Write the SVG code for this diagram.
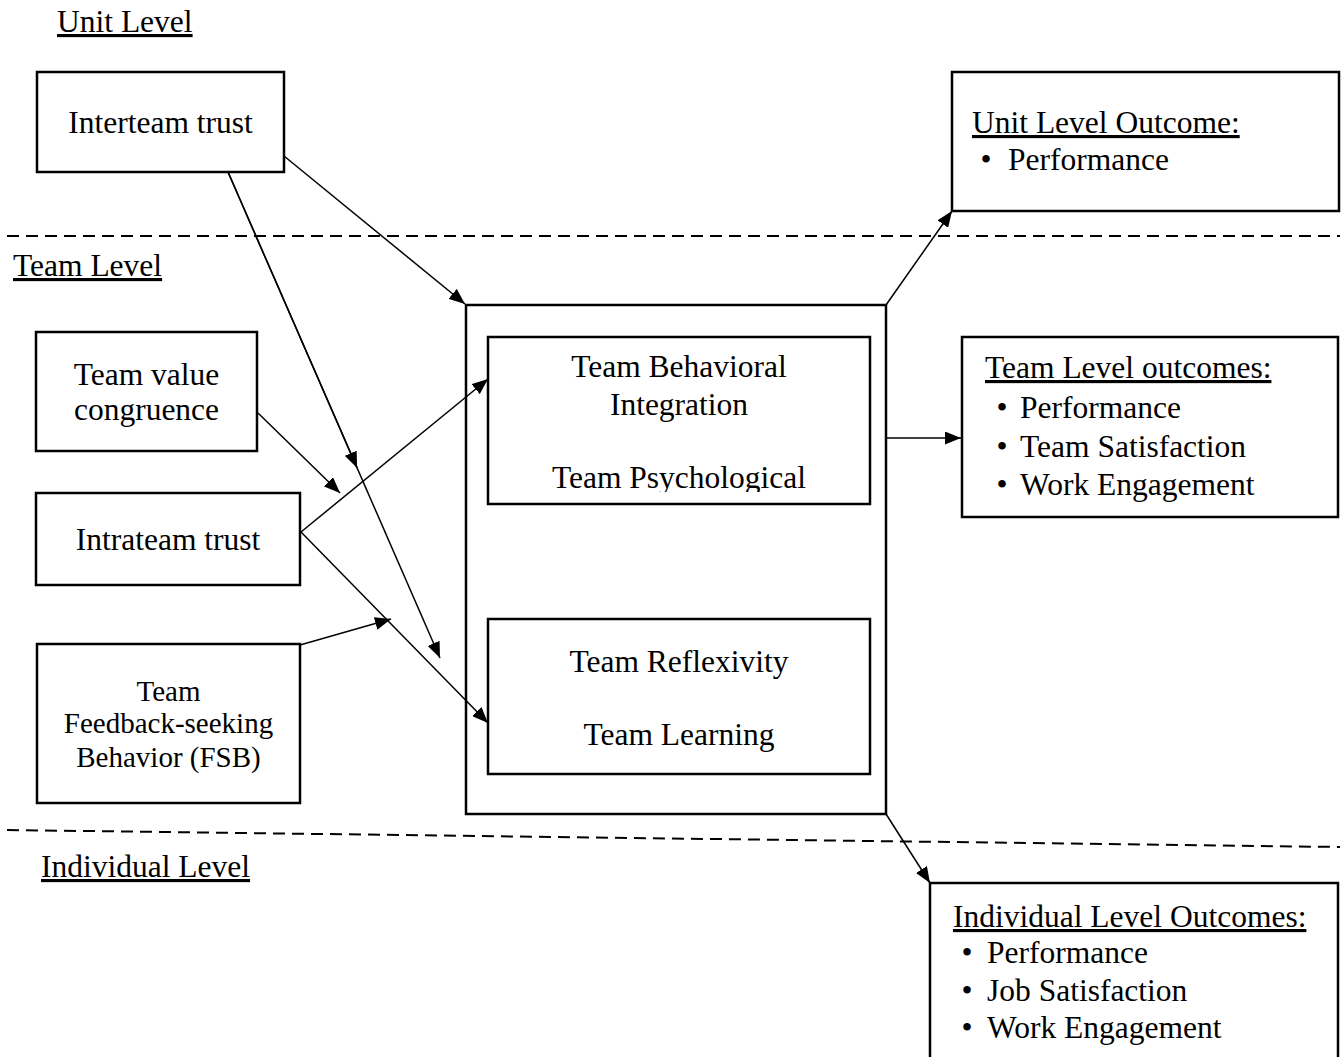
<svg xmlns="http://www.w3.org/2000/svg" width="1343" height="1057" viewBox="0 0 1343 1057">
<style>
text{font-family:"Liberation Serif","Times New Roman",serif;font-size:31.5px;fill:#000}
.c{text-anchor:middle}
.u{text-decoration:underline}
.s{font-size:29px}
.box{fill:#fff;stroke:#000;stroke-width:2.5}
.con line{stroke:#000;stroke-width:1.5;fill:none}
.dash{stroke:#000;stroke-width:2;stroke-dasharray:12 7;fill:none}
</style>
<defs>
<marker id="ah" viewBox="0 0 16 13" refX="16" refY="6.5" markerWidth="16" markerHeight="13" orient="auto" markerUnits="userSpaceOnUse">
<path d="M0,0 L16,6.5 L0,13 Z" fill="#000"/>
</marker>
<clipPath id="clip1"><rect x="488" y="337" width="382" height="155"/></clipPath>
</defs>
<rect width="1343" height="1057" fill="#fff"/>

<g id="levels">
<line class="dash" x1="7" y1="236" x2="1340" y2="236"/>
<line class="dash" x1="7" y1="830" x2="1340" y2="847"/>
<text class="u" x="57" y="32">Unit Level</text>
<text class="u" x="13" y="276">Team Level</text>
<text class="u" x="41" y="877">Individual Level</text>
</g>

<g id="interteam">
<rect class="box" x="37" y="72" width="247" height="100"/>
<text class="c" x="160.5" y="133">Interteam trust</text>
</g>

<g id="valuecongruence">
<rect class="box" x="36" y="332" width="221" height="119"/>
<text class="c" x="146.5" y="385">Team value</text>
<text class="c" x="146.5" y="420">congruence</text>
</g>

<g id="intrateam">
<rect class="box" x="36" y="493" width="264" height="92"/>
<text class="c" x="168" y="550">Intrateam trust</text>
</g>

<g id="fsb">
<rect class="box" x="37" y="644" width="263" height="159"/>
<text class="c s" x="168.5" y="701">Team</text>
<text class="c s" x="168.5" y="733">Feedback-seeking</text>
<text class="c s" x="168.5" y="767">Behavior (FSB)</text>
</g>

<g id="mediators">
<rect class="box" x="466" y="305" width="420" height="509"/>
</g>

<g id="behavioral">
<rect class="box" x="488" y="337" width="382" height="167"/>
<g clip-path="url(#clip1)">
<text class="c" x="679" y="377">Team Behavioral</text>
<text class="c" x="679" y="415">Integration</text>
<text class="c" x="679" y="488">Team Psychological</text>
</g>
</g>

<g id="reflexivity">
<rect class="box" x="488" y="619" width="382" height="155"/>
<text class="c" x="679" y="672">Team Reflexivity</text>
<text class="c" x="679" y="745">Team Learning</text>
</g>

<g id="unitoutcome">
<rect class="box" x="952" y="72" width="387" height="139"/>
<text class="u" x="972" y="133">Unit Level Outcome:</text>
<text x="980.5" y="170">•</text>
<text x="1008" y="170">Performance</text>
</g>

<g id="teamoutcomes">
<rect class="box" x="962" y="337" width="376" height="180"/>
<text class="u" x="985" y="378">Team Level outcomes:</text>
<text x="996.5" y="418">•</text>
<text x="1020" y="418">Performance</text>
<text x="996.5" y="457">•</text>
<text x="1020" y="457">Team Satisfaction</text>
<text x="996.5" y="495">•</text>
<text x="1020" y="495">Work Engagement</text>
</g>

<g id="individualoutcomes">
<rect class="box" x="930" y="883" width="408" height="190"/>
<text class="u" x="953" y="927">Individual Level Outcomes:</text>
<text x="961.5" y="963">•</text>
<text x="987" y="963">Performance</text>
<text x="961.5" y="1001">•</text>
<text x="987" y="1001">Job Satisfaction</text>
<text x="961.5" y="1038">•</text>
<text x="987" y="1038">Work Engagement</text>
</g>

<g id="connectors" class="con">
<line x1="284" y1="156" x2="465" y2="304" marker-end="url(#ah)"/>
<line x1="228" y1="172" x2="440" y2="658" marker-end="url(#ah)"/>
<line x1="228" y1="172" x2="357.1" y2="467.9" marker-end="url(#ah)"/>
<line x1="258" y1="413" x2="340" y2="493" marker-end="url(#ah)"/>
<line x1="301" y1="532" x2="488" y2="379" marker-end="url(#ah)"/>
<line x1="301" y1="532" x2="488" y2="723" marker-end="url(#ah)"/>
<line x1="300" y1="645" x2="391" y2="619" marker-end="url(#ah)"/>
<line x1="886" y1="305" x2="952" y2="211" marker-end="url(#ah)"/>
<line x1="886" y1="438" x2="961" y2="438" marker-end="url(#ah)"/>
<line x1="886" y1="814" x2="930" y2="883" marker-end="url(#ah)"/>
</g>
</svg>
